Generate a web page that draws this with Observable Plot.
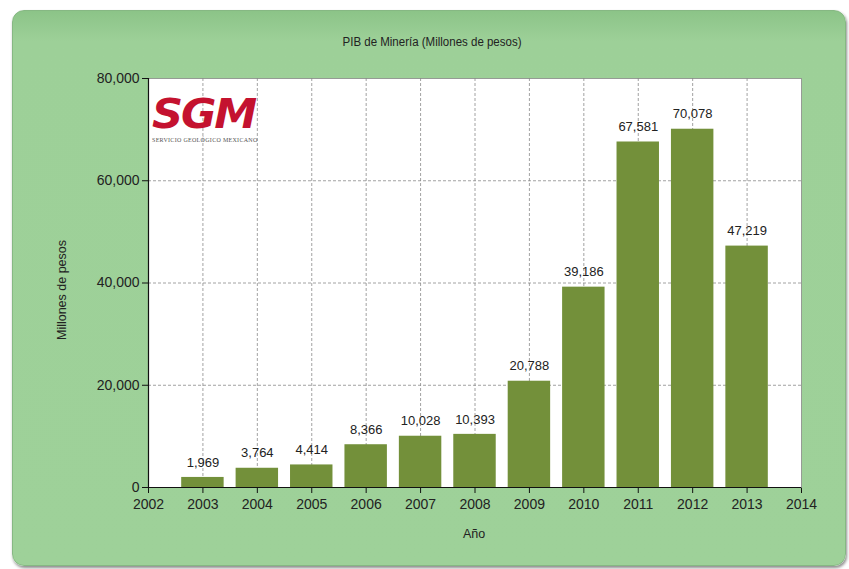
<!DOCTYPE html>
<html>
<head>
<meta charset="utf-8">
<script src="https://cdn.jsdelivr.net/npm/d3@7"></script>
<script src="https://cdn.jsdelivr.net/npm/@observablehq/plot@0.6"></script>
<style>
  html, body { margin: 0; padding: 0; background: #ffffff; }
  body { width: 849px; height: 569px; position: relative; overflow: hidden; font-family: "Liberation Sans", Arial, sans-serif; }
  #card { position: absolute; left: 12px; top: 10px; width: 832px; height: 554px; border-radius: 12px;
          background: linear-gradient(#8cc488 0px, #9dd098 30px, #9ed199 100%);
          box-shadow: 1px 2px 3px rgba(0,0,0,0.45); border: 1px solid #86b883; }
  #chart { position: absolute; left: 0; top: 0; }
  #title { position: absolute; left: 0; width: 864px; top: 35px; text-align: center; font-size: 12.5px; color: #222; transform: scaleX(0.92); transform-origin: 432px 0; }
  #xlabel { position: absolute; left: 0; width: 948px; top: 527px; text-align: center; font-size: 12.5px; color: #222; }
  #ylabel { position: absolute; left: 62px; top: 290px; font-size: 12.5px; color: #222; white-space: nowrap; transform: translate(-50%, -50%) rotate(-90deg); }
  #logo { position: absolute; left: 152px; top: 94px; }
  #logo .sgm { font-family: "DejaVu Sans", sans-serif; font-weight: bold; font-style: italic; font-size: 40px; color: #c4122f; letter-spacing: -2px; line-height: 40px; transform: scaleX(1.08); transform-origin: 0 0; }
  #logo .sub { font-family: "Liberation Serif", serif; font-size: 6px; color: #555; letter-spacing: 0.3px; margin-top: 3px; }
</style>
</head>
<body>
<div id="card"></div>
<div id="chart"></div>
<div id="title">PIB de Minería (Millones de pesos)</div>
<div id="xlabel">Año</div>
<div id="ylabel">Millones de pesos</div>
<div id="logo"><div class="sgm">SGM</div><div class="sub">SERVICIO GEOLÓGICO MEXICANO</div></div>
<script>
const years = [2003, 2004, 2005, 2006, 2007, 2008, 2009, 2010, 2011, 2012, 2013];
const values = [1969, 3764, 4414, 8366, 10028, 10393, 20788, 39186, 67581, 70078, 47219];
const xTicks = [2002, 2003, 2004, 2005, 2006, 2007, 2008, 2009, 2010, 2011, 2012, 2013, 2014];
const yTicks = [0, 20000, 40000, 60000, 80000];
const gridX = years;
const gridY = [20000, 40000, 60000];

const data = years.map((y, i) => ({year: y, value: values[i]}));
const fmt = d3.format(",");
const halfWidth = 0.39;

const plot = Plot.plot({
  width: 849,
  height: 569,
  marginLeft: 148,
  marginRight: 48,
  marginTop: 78,
  marginBottom: 82,
  style: {background: "transparent", fontFamily: "Liberation Sans, Arial, sans-serif", color: "#222"},
  x: {domain: [2002, 2014], ticks: xTicks, tickFormat: d => String(d), label: null, tickSize: 6, tickPadding: 6},
  y: {domain: [0, 80000], ticks: yTicks, tickFormat: fmt, label: null, tickSize: 6, tickPadding: 3},
  marks: [
    Plot.frame({fill: "white", stroke: "#888", strokeWidth: 0.8}),
    Plot.ruleX(gridX, {stroke: "#8a8a8a", strokeDasharray: "3,2", strokeWidth: 0.8}),
    Plot.ruleY(gridY, {stroke: "#8a8a8a", strokeDasharray: "3,2", strokeWidth: 0.8}),
    Plot.rectY(data, {x1: d => d.year - halfWidth, x2: d => d.year + halfWidth, y: "value", fill: "#73903a"}),
    Plot.text(data, {x: "year", y: "value", text: d => fmt(d.value), dy: -15, fontSize: 13, fill: "#222"}),
    Plot.ruleY([0], {stroke: "#111", strokeWidth: 1.2}),
    Plot.ruleX([2002], {stroke: "#111", strokeWidth: 1.2}),
  ]
});
document.getElementById("chart").appendChild(plot);

d3.select(plot).selectAll("[aria-label='x-axis tick label'] text, [aria-label='y-axis tick label'] text").style("font-size", "14px");
d3.select(plot).selectAll("[aria-label='x-axis tick'], [aria-label='y-axis tick']").attr("stroke", "#111");
</script>
</body>
</html>
